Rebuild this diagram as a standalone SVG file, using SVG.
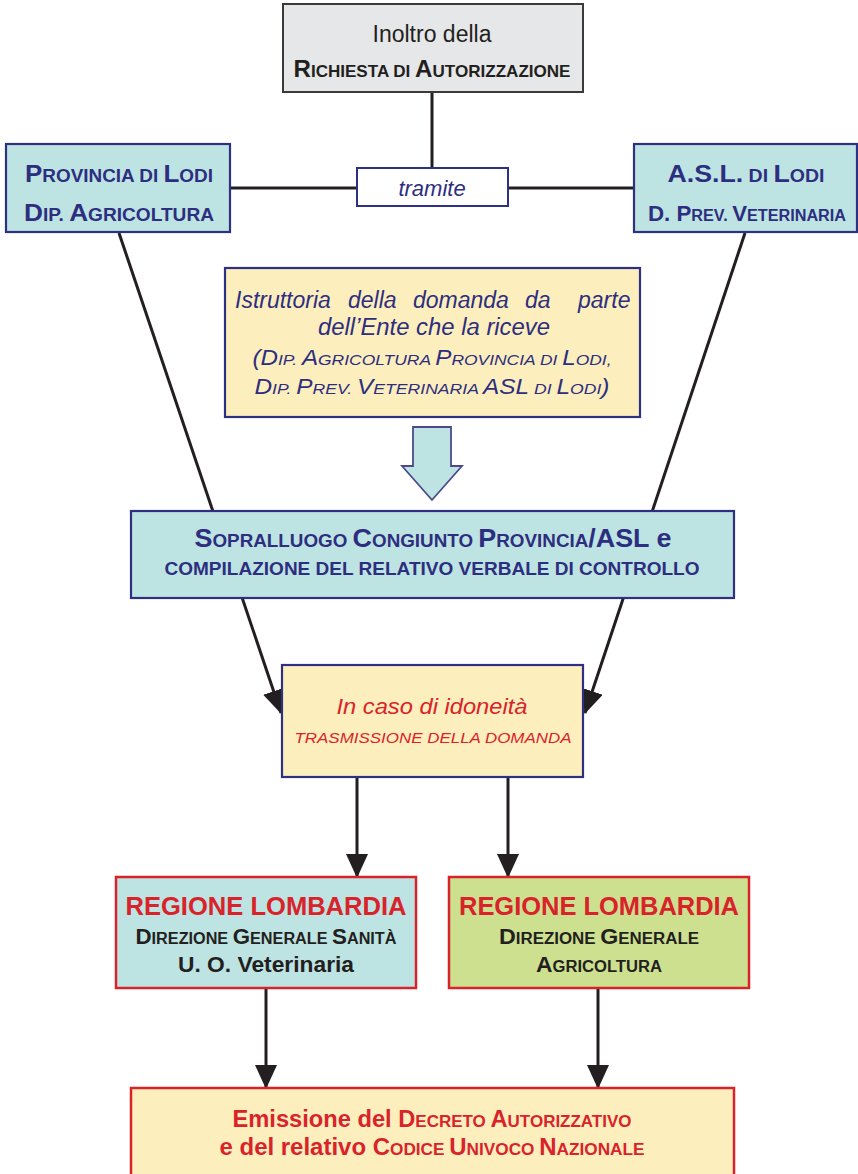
<svg xmlns="http://www.w3.org/2000/svg" width="858" height="1174" viewBox="0 0 858 1174">
<defs>
<style>
text{font-family:"Liberation Sans",Arial,Helvetica,sans-serif;text-anchor:middle}
.b{font-weight:bold}
.i{font-style:italic}
.navy{fill:#2d2e7f}
.red{fill:#d9232b}
.blk{fill:#231f20}
.bx-grey{fill:#e6e7e8;stroke:#3a3a3a;stroke-width:2}
.bx-cyan{fill:#bde4e2;stroke:#2e3083;stroke-width:2.2}
.bx-yel{fill:#fdefbd;stroke:#2e3083;stroke-width:2.2}
.bx-white{fill:#ffffff;stroke:#2e3083;stroke-width:2}
.rx-cyan{fill:#bde4e2;stroke:#d9232b;stroke-width:2.5}
.rx-green{fill:#cde08f;stroke:#d9232b;stroke-width:2.5}
.rx-yel{fill:#fdefbd;stroke:#d9232b;stroke-width:2.5}
.ln{stroke:#231f20;stroke-width:3;fill:none}
.arr{marker-end:url(#ah)}
</style>
<marker id="ah" markerUnits="userSpaceOnUse" markerWidth="24" markerHeight="22" viewBox="0 0 24 22" refX="23" refY="11" orient="auto">
<path d="M0,0 L24,11 L0,22 z" fill="#231f20"/>
</marker>
</defs>
<rect width="858" height="1174" fill="#ffffff"/>

<g id="connectors">
<line class="ln" x1="432" y1="92" x2="432" y2="168"/>
<line class="ln" x1="230" y1="188" x2="357" y2="188"/>
<line class="ln" x1="508" y1="188" x2="634" y2="188"/>
<line class="ln arr" x1="119" y1="233" x2="281" y2="713"/>
<line class="ln arr" x1="745" y1="233" x2="585" y2="713"/>
<line class="ln arr" x1="357" y1="777" x2="357" y2="877"/>
<line class="ln arr" x1="508" y1="777" x2="508" y2="877"/>
<line class="ln arr" x1="266" y1="988" x2="266" y2="1088"/>
<line class="ln arr" x1="598" y1="988" x2="598" y2="1088"/>
<path d="M413,427 H451 V466 H462 L432,500 L402,466 H413 Z" fill="#bde4e2" stroke="#4a4a8a" stroke-width="1.8"/>
</g>

<g id="node-richiesta">
<rect class="bx-grey" x="283" y="4" width="300" height="88"/>
<text x="432" y="42" font-size="23" class="blk">Inoltro della</text>
<text x="432" y="77" class="b blk" textLength="277" lengthAdjust="spacingAndGlyphs"><tspan font-size="24">R</tspan><tspan font-size="17">ICHIESTA DI </tspan><tspan font-size="24">A</tspan><tspan font-size="17">UTORIZZAZIONE</tspan></text>
</g>

<g id="node-tramite">
<rect class="bx-white" x="357" y="168" width="151" height="38"/>
<text x="432" y="196" font-size="22" class="i navy">tramite</text>
</g>

<g id="node-provincia">
<rect class="bx-cyan" x="6" y="144" width="224" height="88"/>
<text x="119" y="182" class="b navy" textLength="188" lengthAdjust="spacingAndGlyphs"><tspan font-size="24">P</tspan><tspan font-size="17.5">ROVINCIA DI </tspan><tspan font-size="24">L</tspan><tspan font-size="17.5">ODI</tspan></text>
<text x="119" y="221" class="b navy" textLength="190" lengthAdjust="spacingAndGlyphs"><tspan font-size="24">D</tspan><tspan font-size="17.5">IP. </tspan><tspan font-size="24">A</tspan><tspan font-size="17.5">GRICOLTURA</tspan></text>
</g>

<g id="node-asl">
<rect class="bx-cyan" x="634" y="144" width="223" height="88"/>
<text x="746" y="182" class="b navy" textLength="157" lengthAdjust="spacingAndGlyphs"><tspan font-size="24">A.S.L.</tspan><tspan font-size="17.5"> DI </tspan><tspan font-size="24">L</tspan><tspan font-size="17.5">ODI</tspan></text>
<text x="747" y="221" class="b navy" textLength="198" lengthAdjust="spacingAndGlyphs"><tspan font-size="22">D. P</tspan><tspan font-size="16">REV. </tspan><tspan font-size="22">V</tspan><tspan font-size="16">ETERINARIA</tspan></text>
</g>

<g id="node-istruttoria">
<rect class="bx-yel" x="225" y="268" width="415" height="149"/>
<text y="308" font-size="23" class="i navy" style="text-anchor:start"><tspan x="235">Istruttoria</tspan><tspan x="348">della</tspan><tspan x="413">domanda</tspan><tspan x="525">da</tspan><tspan x="578">parte</tspan></text>
<text x="434" y="335" font-size="23" class="i navy" textLength="232" lengthAdjust="spacingAndGlyphs">dell’Ente che la riceve</text>
<text x="432" y="365" class="i navy" textLength="359" lengthAdjust="spacingAndGlyphs"><tspan font-size="21.5">(D</tspan><tspan font-size="15.5">IP. </tspan><tspan font-size="21.5">A</tspan><tspan font-size="15.5">GRICOLTURA </tspan><tspan font-size="21.5">P</tspan><tspan font-size="15.5">ROVINCIA DI </tspan><tspan font-size="21.5">L</tspan><tspan font-size="15.5">ODI,</tspan></text>
<text x="432" y="394" class="i navy" textLength="355" lengthAdjust="spacingAndGlyphs"><tspan font-size="21.5">D</tspan><tspan font-size="15.5">IP. </tspan><tspan font-size="21.5">P</tspan><tspan font-size="15.5">REV. </tspan><tspan font-size="21.5">V</tspan><tspan font-size="15.5">ETERINARIA </tspan><tspan font-size="21.5">ASL</tspan><tspan font-size="15.5"> DI </tspan><tspan font-size="21.5">L</tspan><tspan font-size="15.5">ODI</tspan><tspan font-size="21.5">)</tspan></text>
</g>

<g id="node-sopralluogo">
<rect class="bx-cyan" x="131" y="511" width="603" height="87"/>
<text x="433" y="547" class="b navy" textLength="477" lengthAdjust="spacingAndGlyphs"><tspan font-size="25">S</tspan><tspan font-size="17.5">OPRALLUOGO </tspan><tspan font-size="25">C</tspan><tspan font-size="17.5">ONGIUNTO </tspan><tspan font-size="25">P</tspan><tspan font-size="17.5">ROVINCIA</tspan><tspan font-size="25">/ASL e</tspan></text>
<text x="432" y="575" class="b navy" font-size="18" textLength="535" lengthAdjust="spacingAndGlyphs">COMPILAZIONE DEL RELATIVO VERBALE DI CONTROLLO</text>
</g>

<g id="node-idoneita">
<rect class="bx-yel" x="282" y="665" width="301" height="112"/>
<text x="432" y="714" font-size="22" class="i red" textLength="191" lengthAdjust="spacingAndGlyphs">In caso di idoneità</text>
<text x="433" y="743" font-size="15.5" class="i red" textLength="277" lengthAdjust="spacingAndGlyphs">TRASMISSIONE DELLA DOMANDA</text>
</g>

<g id="node-regione-sanita">
<rect class="rx-cyan" x="116" y="877" width="300" height="111"/>
<text x="266" y="915" font-size="25" class="b red" textLength="281" lengthAdjust="spacingAndGlyphs">REGIONE LOMBARDIA</text>
<text x="266" y="944" class="b blk" textLength="261" lengthAdjust="spacingAndGlyphs"><tspan font-size="22">D</tspan><tspan font-size="16">IREZIONE </tspan><tspan font-size="22">G</tspan><tspan font-size="16">ENERALE </tspan><tspan font-size="22">S</tspan><tspan font-size="16">ANITÀ</tspan></text>
<text x="266" y="972" font-size="22" class="b blk" textLength="176" lengthAdjust="spacingAndGlyphs">U. O. Veterinaria</text>
</g>

<g id="node-regione-agricoltura">
<rect class="rx-green" x="449" y="877" width="300" height="111"/>
<text x="599" y="915" font-size="25" class="b red" textLength="280" lengthAdjust="spacingAndGlyphs">REGIONE LOMBARDIA</text>
<text x="599" y="944" class="b blk" textLength="200" lengthAdjust="spacingAndGlyphs"><tspan font-size="22">D</tspan><tspan font-size="16">IREZIONE </tspan><tspan font-size="22">G</tspan><tspan font-size="16">ENERALE</tspan></text>
<text x="599" y="972" class="b blk" textLength="126" lengthAdjust="spacingAndGlyphs"><tspan font-size="22">A</tspan><tspan font-size="16">GRICOLTURA</tspan></text>
</g>

<g id="node-decreto">
<rect class="rx-yel" x="131" y="1088" width="603" height="95"/>
<text x="432" y="1127" class="b red" textLength="399" lengthAdjust="spacingAndGlyphs"><tspan font-size="23">Emissione del D</tspan><tspan font-size="16.5">ECRETO </tspan><tspan font-size="23">A</tspan><tspan font-size="16.5">UTORIZZATIVO</tspan></text>
<text x="432" y="1155" class="b red" textLength="425" lengthAdjust="spacingAndGlyphs"><tspan font-size="23">e del relativo C</tspan><tspan font-size="16.5">ODICE </tspan><tspan font-size="23">U</tspan><tspan font-size="16.5">NIVOCO </tspan><tspan font-size="23">N</tspan><tspan font-size="16.5">AZIONALE</tspan></text>
</g>
</svg>
